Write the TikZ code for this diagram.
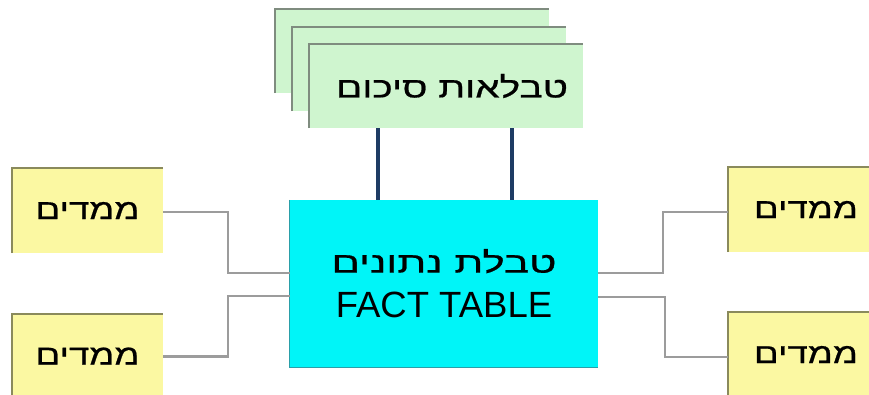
\documentclass[tikz,border=0pt]{standalone}
\usepackage{fontspec}
\usepackage{graphicx}
\setmainfont{Liberation Sans}
\newfontfamily\hebfont[Script=Hebrew,FakeBold=0.6]{Liberation Sans}
\TeXXeTstate=1
\definecolor{dimyellow}{HTML}{FBF8A2}
\definecolor{dimedge}{HTML}{8A8A5C}
\definecolor{sumgreen}{HTML}{CFF5CF}
\definecolor{sumedge}{HTML}{7F8C7F}
\definecolor{factcyan}{HTML}{00F5F8}
\definecolor{factedge}{HTML}{2A9FA8}
\definecolor{linkgray}{HTML}{9C9C9C}
\definecolor{navy}{HTML}{1E3C64}
\newcommand{\hebtext}[2]{\resizebox{#1}{\height}{\hebfont #2}}
\tikzset{
  dimbox/.style={fill=dimyellow, minimum width=151pt, minimum height=85pt, inner sep=0pt,
    font=\fontsize{28}{34}\selectfont},
  sumbox/.style={fill=sumgreen, minimum width=274pt, minimum height=84pt, inner sep=0pt,
    font=\fontsize{29}{34}\selectfont},
  factbox/.style={fill=factcyan, minimum width=308pt, minimum height=167pt, inner sep=0pt,
    align=center, font=\fontsize{36.5}{45}\selectfont},
  dimedgeline/.style={draw=dimedge, line width=2pt},
  sumedgeline/.style={draw=sumedge, line width=1.8pt},
  link/.style={draw=linkgray, line width=2.2pt},
  uplink/.style={draw=navy, line width=4pt}
}
\begin{document}
\begin{tikzpicture}[x=1pt,y=-1pt]
\useasboundingbox (0,0) rectangle (869,394);
\clip (0,0) rectangle (869,394);
\fill[white] (0,0) rectangle (869,394);

% summary tables stack
\node[sumbox] (s3) at (412,51) {};
\draw[sumedgeline] (s3.south west) -- (s3.north west) -- (s3.north east);
\node[sumbox] (s2) at (429,69) {};
\draw[sumedgeline] (s2.south west) -- (s2.north west) -- (s2.north east);
\node[sumbox] (s1) at (446,86) {\hspace*{12pt}\raisebox{-4pt}{\hebtext{232pt}{\beginR טבלאות סיכום\endR}}};
\draw[sumedgeline] (s1.south west) -- (s1.north west) -- (s1.north east);

% fact table
\node[factbox] (fact) at (444,283.5) {\fontsize{29}{45}\selectfont\hebtext{225pt}{\beginR טבלת נתונים\endR}\\FACT TABLE};
\draw[draw=factedge, line width=1.2pt] (fact.north west) -- (fact.south west) -- (fact.south east);

% dimension tables
\node[dimbox] (dl1) at (87.5,210.5) {\raisebox{-3.5pt}{\hebtext{104pt}{\beginR ממדים\endR}}};
\draw[dimedgeline] (dl1.south west) -- (dl1.north west) -- (dl1.north east);
\node[dimbox] (dl2) at (87.5,356.5) {\raisebox{1pt}{\hebtext{104pt}{\beginR ממדים\endR}}};
\draw[dimedgeline] (dl2.south west) -- (dl2.north west) -- (dl2.north east);
\node[dimbox] (dr1) at (803.5,209.5) {\hspace*{5pt}\raisebox{-5pt}{\hebtext{104pt}{\beginR ממדים\endR}}};
\draw[dimedgeline] (dr1.south west) -- (dr1.north west) -- (dr1.north east);
\node[dimbox] (dr2) at (803.5,355) {\hspace*{5pt}\raisebox{1pt}{\hebtext{104pt}{\beginR ממדים\endR}}};
\draw[dimedgeline] (dr2.south west) -- (dr2.north west) -- (dr2.north east);

% links fact <-> summary
\draw[uplink] ([xshift=-68pt]s1.south) -- ([xshift=-66pt]fact.north);
\draw[uplink] ([xshift=66pt]s1.south) -- ([xshift=68pt]fact.north);

% links fact <-> dimensions
\coordinate (lj) at (228,0);
\coordinate (rj1) at (663,0);
\coordinate (rj2) at (665,0);
\coordinate (fL1) at ([yshift=10.5pt]fact.west);
\coordinate (fL2) at ([yshift=-12.5pt]fact.west);
\coordinate (fR1) at ([yshift=10.5pt]fact.east);
\coordinate (fR2) at ([yshift=-13.5pt]fact.east);
\coordinate (pl1) at ([yshift=-1.5pt]dl1.east);
\coordinate (pl2) at (dl2.east);
\coordinate (pr1) at ([yshift=-2.5pt]dr1.west);
\coordinate (pr2) at ([yshift=-2pt]dr2.west);
\draw[link] (pl1) -| (lj |- fL1) -- (fL1);
\draw[link] (pl2) -| (lj |- fL2) -- (fL2);
\draw[link] (fR1) -| (rj1 |- pr1) -- (pr1);
\draw[link] (fR2) -| (rj2 |- pr2) -- (pr2);
\end{tikzpicture}
\end{document}
